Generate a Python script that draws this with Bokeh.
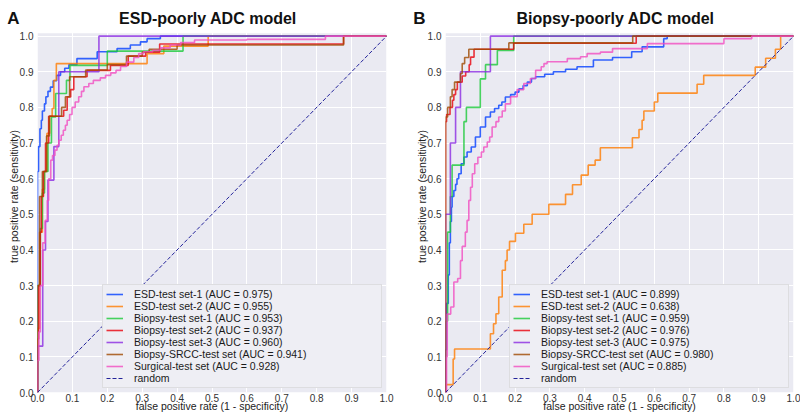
from bokeh.plotting import figure
from bokeh.layouts import row
from bokeh.models import (Range1d, Label, Legend, LegendItem, FixedTicker, PrintfTickFormatter,
                          LinearAxis, BoxAnnotation)
from bokeh.embed import file_html
from bokeh.resources import INLINE

# ---------------- data ----------------
ticks = [0.0, 0.1, 0.2, 0.3, 0.4, 0.5, 0.6, 0.7, 0.8, 0.9, 1.0]

series_names = ["ESD-test set-1", "ESD-test set-2", "Biopsy-test set-1", "Biopsy-test set-2",
                "Biopsy-test set-3", "Biopsy-SRCC-test set", "Surgical-test set"]
auc_a = [0.975, 0.955, 0.953, 0.937, 0.960, 0.941, 0.928]
auc_b = [0.899, 0.638, 0.959, 0.976, 0.975, 0.980, 0.885]
colors = ["#023eff", "#ff7c00", "#1ac938", "#e8000b", "#8b2be2", "#9f4800", "#f14cc1"]

# Panel A (ESD-poorly ADC model): staircase corners (fpr where curve jumps, tpr after jump)
a_esd1_fpr = [0, 0, 0.003, 0.007, 0.011, 0.014, 0.02, 0.024, 0.03, 0.037, 0.045, 0.055, 0.066, 0.078, 0.09, 0.113, 0.171, 0.228, 0.266, 0.295, 0.314, 0.352, 1.0]
a_esd1_tpr = [0, 0.62, 0.69, 0.74, 0.764, 0.79, 0.81, 0.83, 0.845, 0.857, 0.875, 0.89, 0.90, 0.91, 0.92, 0.937, 0.956, 0.965, 0.975, 0.984, 0.993, 1.0, 1.0]
a_esd2_fpr = [0, 0, 0.006, 0.014, 0.02, 0.027, 0.035, 0.042, 0.047, 0.054, 0.314, 0.362, 0.489, 1.0]
a_esd2_tpr = [0, 0.18, 0.45, 0.57, 0.62, 0.727, 0.775, 0.797, 0.876, 0.923, 0.951, 0.972, 1.0, 1.0]
a_bio1_fpr = [0, 0, 0.008, 0.014, 0.02, 0.03, 0.04, 0.052, 0.083, 0.093, 0.2, 0.417, 1.0]
a_bio1_tpr = [0, 0.3, 0.46, 0.56, 0.62, 0.70, 0.773, 0.839, 0.876, 0.918, 0.958, 1.0, 1.0]
a_bio2_fpr = [0, 0, 0.003, 0.008, 0.011, 0.017, 0.023, 0.032, 0.075, 0.085, 0.095, 0.104, 0.142, 0.209, 0.26, 0.31, 0.35, 0.877, 1.0]
a_bio2_tpr = [0, 0.15, 0.3, 0.45, 0.55, 0.62, 0.70, 0.775, 0.792, 0.829, 0.85, 0.886, 0.904, 0.918, 0.944, 0.955, 0.978, 1.0, 1.0]
a_bio3_fpr = [0, 0, 0.015, 0.023, 0.03, 0.047, 0.061, 0.176, 1.0]
a_bio3_tpr = [0, 0.13, 0.40, 0.48, 0.596, 0.69, 0.90, 1.0, 1.0]
a_srcc_fpr = [0, 0, 0.006, 0.014, 0.026, 0.034, 0.069, 0.080, 0.092, 0.138, 0.20, 0.255, 0.30, 0.32, 0.40, 0.877, 1.0]
a_srcc_tpr = [0, 0.3, 0.55, 0.62, 0.72, 0.775, 0.80, 0.83, 0.886, 0.905, 0.92, 0.944, 0.955, 0.963, 0.975, 1.0, 1.0]
a_surg_fpr = [0, 0, 0.004, 0.008, 0.015, 0.022, 0.028, 0.032, 0.038, 0.043, 0.05, 0.056, 0.061, 0.068, 0.074, 0.08, 0.085, 0.092, 0.099, 0.108, 0.118, 0.126, 0.133, 0.147, 0.16, 0.18, 0.195, 0.21, 0.225, 0.238, 0.255, 0.276, 0.29, 0.304, 0.33, 0.352, 0.38, 0.41, 0.45, 0.6, 0.825, 1.0]
a_surg_tpr = [0, 0.09, 0.17, 0.3, 0.42, 0.483, 0.539, 0.60, 0.652, 0.665, 0.68, 0.694, 0.708, 0.722, 0.736, 0.75, 0.764, 0.78, 0.80, 0.815, 0.83, 0.845, 0.858, 0.867, 0.876, 0.883, 0.89, 0.897, 0.904, 0.915, 0.927, 0.94, 0.951, 0.956, 0.96, 0.967, 0.975, 0.982, 0.989, 0.991, 1.0, 1.0]

# Panel B (Biopsy-poorly ADC model)
b_esd1_fpr = [0, 0, 0.003, 0.008, 0.011, 0.014, 0.017, 0.019, 0.024, 0.029, 0.033, 0.038, 0.045, 0.053, 0.062, 0.074, 0.086, 0.1, 0.115, 0.129, 0.141, 0.153, 0.162, 0.172, 0.187, 0.2, 0.211, 0.223, 0.235, 0.247, 0.259, 0.285, 0.31, 0.345, 0.378, 0.425, 0.48, 0.535, 0.565, 0.627, 0.637, 1.0]
b_esd1_tpr = [0, 0.12, 0.25, 0.33, 0.42, 0.48, 0.52, 0.55, 0.567, 0.584, 0.60, 0.614, 0.642, 0.661, 0.675, 0.689, 0.717, 0.745, 0.773, 0.787, 0.797, 0.806, 0.815, 0.829, 0.836, 0.843, 0.852, 0.861, 0.871, 0.881, 0.886, 0.893, 0.9, 0.907, 0.914, 0.933, 0.94, 0.956, 0.97, 0.993, 1.0, 1.0]
b_esd2_fpr = [0, 0, 0.022, 0.026, 0.129, 0.138, 0.145, 0.153, 0.163, 0.172, 0.177, 0.184, 0.201, 0.225, 0.249, 0.297, 0.345, 0.365, 0.39, 0.41, 0.43, 0.445, 0.537, 0.556, 0.565, 0.57, 0.6, 0.61, 0.723, 0.742, 0.89, 0.92, 0.948, 0.963, 1.0]
b_esd2_tpr = [0, 0.022, 0.094, 0.122, 0.165, 0.193, 0.221, 0.268, 0.343, 0.37, 0.40, 0.424, 0.447, 0.472, 0.50, 0.528, 0.556, 0.583, 0.61, 0.638, 0.652, 0.687, 0.715, 0.738, 0.764, 0.79, 0.815, 0.84, 0.865, 0.89, 0.913, 0.938, 0.963, 1.0, 1.0]
b_bio1_fpr = [0, 0, 0.006, 0.014, 0.019, 0.053, 0.06, 0.10, 0.115, 0.149, 0.196, 1.0]
b_bio1_tpr = [0, 0.2, 0.45, 0.55, 0.638, 0.76, 0.80, 0.88, 0.92, 0.96, 1.0, 1.0]
b_bio2_fpr = [0, 0, 0.003, 0.013, 0.02, 0.024, 0.029, 0.034, 0.048, 0.058, 0.068, 0.072, 0.082, 0.196, 0.548, 1.0]
b_bio2_tpr = [0, 0.76, 0.78, 0.80, 0.82, 0.836, 0.85, 0.871, 0.888, 0.90, 0.92, 0.941, 0.963, 0.98, 1.0, 1.0]
b_bio3_fpr = [0, 0, 0.014, 0.029, 0.043, 0.129, 1.0]
b_bio3_tpr = [0, 0.5, 0.7, 0.8, 0.9, 1.0, 1.0]
b_srcc_fpr = [0, 0, 0.006, 0.014, 0.019, 0.026, 0.043, 0.048, 0.055, 0.067, 0.182, 0.538, 1.0]
b_srcc_tpr = [0, 0.773, 0.80, 0.83, 0.85, 0.871, 0.895, 0.923, 0.94, 0.963, 0.981, 1.0, 1.0]
b_surg_fpr = [0, 0.003, 0.005, 0.015, 0.024, 0.035, 0.043, 0.048, 0.057, 0.062, 0.067, 0.072, 0.077, 0.084, 0.093, 0.103, 0.11, 0.12, 0.127, 0.134, 0.145, 0.153, 0.163, 0.172, 0.187, 0.206, 0.225, 0.244, 0.259, 0.275, 0.283, 0.292, 0.35, 0.388, 0.407, 0.445, 0.48, 0.58, 0.8, 0.88, 1.0]
b_surg_tpr = [0, 0.1, 0.22, 0.24, 0.31, 0.32, 0.37, 0.41, 0.45, 0.483, 0.539, 0.576, 0.614, 0.642, 0.66, 0.675, 0.689, 0.703, 0.717, 0.745, 0.76, 0.773, 0.79, 0.81, 0.83, 0.85, 0.867, 0.881, 0.904, 0.914, 0.923, 0.928, 0.937, 0.942, 0.951, 0.955, 0.965, 0.979, 0.993, 1.0, 1.0]

random_x = [0.0, 1.0]
random_y = [0.0, 1.0]

panel_a_curves = [(a_esd1_fpr, a_esd1_tpr), (a_esd2_fpr, a_esd2_tpr), (a_bio1_fpr, a_bio1_tpr),
                  (a_bio2_fpr, a_bio2_tpr), (a_bio3_fpr, a_bio3_tpr), (a_srcc_fpr, a_srcc_tpr),
                  (a_surg_fpr, a_surg_tpr)]
panel_b_curves = [(b_esd1_fpr, b_esd1_tpr), (b_esd2_fpr, b_esd2_tpr), (b_bio1_fpr, b_bio1_tpr),
                  (b_bio2_fpr, b_bio2_tpr), (b_bio3_fpr, b_bio3_tpr), (b_srcc_fpr, b_srcc_tpr),
                  (b_surg_fpr, b_surg_tpr)]

FONT = "Liberation Sans"
Y_AXIS_TOP = 1.008      # top of the grey axes area
Y_VIEW_TOP = 1.10       # frame extends up to the title row
TITLE_Y = 1.049


def make_panel(curves, aucs, letter, title, width, border_left, border_right, letter_standoff):
    p = figure(width=width, height=415,
               x_range=Range1d(0, 1), y_range=Range1d(0, Y_VIEW_TOP),
               output_backend="svg", toolbar_location=None,
               min_border_left=border_left, min_border_right=border_right,
               min_border_top=0, min_border_bottom=23)
    p.background_fill_color = "white"
    p.border_fill_color = "white"
    p.outline_line_color = None
    p.add_layout(BoxAnnotation(left=0, right=1, bottom=0, top=Y_AXIS_TOP, fill_color="#EAEAF2",
                               fill_alpha=1, line_color=None, level="image"))
    p.grid.grid_line_color = "white"
    p.grid.grid_line_width = 1
    for ax in (p.xaxis, p.yaxis):
        ax.ticker = FixedTicker(ticks=ticks)
        ax.formatter = PrintfTickFormatter(format="%.1f")
        ax.axis_line_color = None
        ax.major_tick_line_color = None
        ax.minor_tick_line_color = None
        ax.major_tick_out = 0
        ax.major_tick_in = 0
        ax.major_label_text_font = FONT
        ax.major_label_text_font_size = "10px"
        ax.major_label_text_color = "#333333"
        ax.axis_label_text_font = FONT
        ax.axis_label_text_font_size = "10.5px"
        ax.axis_label_text_font_style = "normal"
        ax.axis_label_text_color = "#222222"
    p.yaxis.bounds = (0, Y_AXIS_TOP)
    p.xaxis.axis_label = "false positive rate (1 - specificity)"
    p.yaxis.axis_label = "true positive rate (sensitivity)"
    p.xaxis.major_label_standoff = 1
    p.xaxis.axis_label_standoff = -5
    p.yaxis.major_label_standoff = 4
    p.yaxis.axis_label_standoff = -3

    # panel letter, drawn as the single tick label of an extra left axis
    letter_axis = LinearAxis(ticker=FixedTicker(ticks=[TITLE_Y]), major_label_overrides={TITLE_Y: letter},
                             axis_line_color=None, major_tick_line_color=None, minor_tick_line_color=None,
                             major_tick_out=0, major_tick_in=0, major_label_standoff=letter_standoff,
                             major_label_text_font=FONT, major_label_text_font_size="17px",
                             major_label_text_font_style="bold", major_label_text_color="#111111")
    p.add_layout(letter_axis, "left")

    items = []
    for (fx, fy), auc, name, col in zip(curves, aucs, series_names, colors):
        r = p.step(fx, fy, mode="after", line_color=col, line_width=1.6, line_alpha=0.8)
        items.append(LegendItem(label=f"{name} (AUC = {auc:.3f})", renderers=[r]))
    rr = p.line(random_x, random_y, line_color="#23239a", line_width=1, line_dash="4 2")
    items.append(LegendItem(label="random", renderers=[rr]))

    leg = Legend(items=items, location="bottom_right")
    leg.label_text_font = FONT
    leg.label_text_font_size = "10.5px"
    leg.label_text_color = "#1a1a1a"
    leg.glyph_width = 17
    leg.glyph_height = 12
    leg.label_height = 12
    leg.label_standoff = 11
    leg.label_width = 244
    leg.spacing = 0
    leg.padding = 3
    leg.margin = 4
    leg.background_fill_color = "#EEEEF4"
    leg.background_fill_alpha = 1
    leg.border_line_color = "#CCCCCC"
    leg.border_line_width = 1
    p.add_layout(leg)

    p.add_layout(Label(x=0.4885, y=TITLE_Y, text=title, text_align="center", text_baseline="middle",
                       text_font=FONT, text_font_size="16px", text_font_style="bold", text_color="#111111"))
    return p


pa = make_panel(panel_a_curves, auc_a, "A", "ESD-poorly ADC model", 400, 37, 14, -15)
pb = make_panel(panel_b_curves, auc_b, "B", "Biopsy-poorly ADC model", 400, 45, 7, -13)

layout = row(pa, pb)
open("out.html", "w").write(file_html(layout, INLINE))
